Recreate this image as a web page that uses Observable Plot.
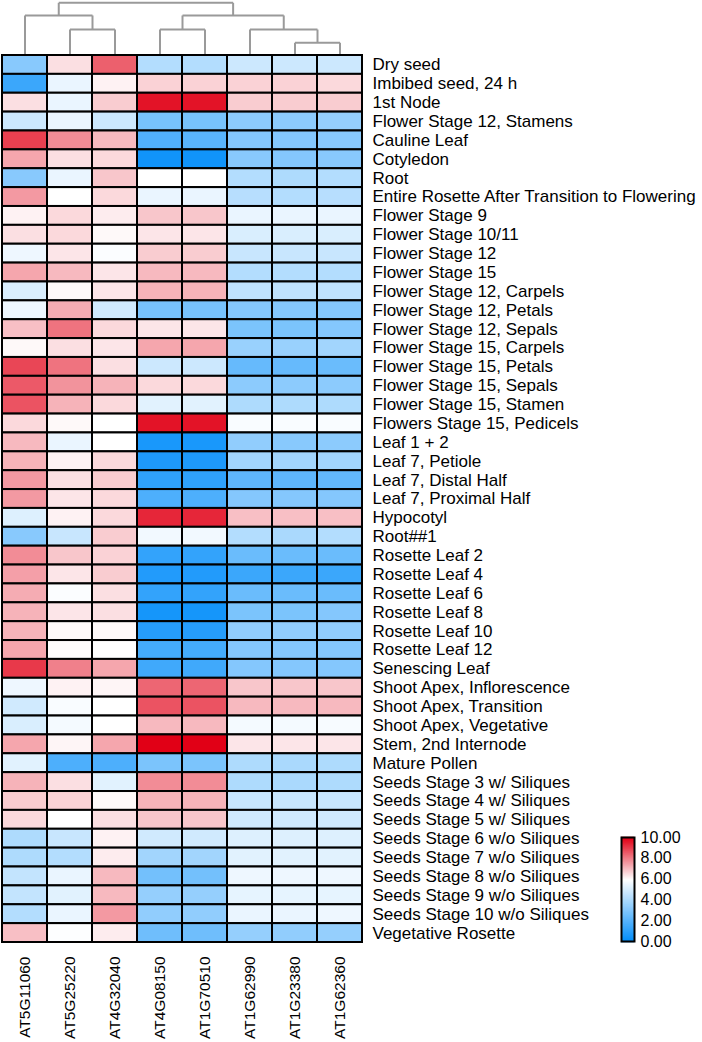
<!DOCTYPE html>
<html><head><meta charset="utf-8">
<script src="https://cdn.jsdelivr.net/npm/d3@7"></script>
<script src="https://cdn.jsdelivr.net/npm/@observablehq/plot@0.6"></script>
<style>
html,body{margin:0;padding:0;background:#fff;}
#wrap{position:relative;width:702px;height:1042px;overflow:hidden;font-family:"Liberation Sans",Arial,sans-serif;}
#wrap svg{position:absolute;background:transparent;max-width:none;overflow:visible;}
</style></head><body><div id="wrap"></div>
<script>
const genes = ["AT5G11060","AT5G25220","AT4G32040","AT4G08150","AT1G70510","AT1G62990","AT1G23380","AT1G62360"];
const tissues = ["Dry seed","Imbibed seed, 24 h","1st Node","Flower Stage 12, Stamens","Cauline Leaf","Cotyledon","Root","Entire Rosette After Transition to Flowering","Flower Stage 9","Flower Stage 10/11","Flower Stage 12","Flower Stage 15","Flower Stage 12, Carpels","Flower Stage 12, Petals","Flower Stage 12, Sepals","Flower Stage 15, Carpels","Flower Stage 15, Petals","Flower Stage 15, Sepals","Flower Stage 15, Stamen","Flowers Stage 15, Pedicels","Leaf 1 + 2","Leaf 7, Petiole","Leaf 7, Distal Half","Leaf 7, Proximal Half","Hypocotyl","Root##1","Rosette Leaf 2","Rosette Leaf 4","Rosette Leaf 6","Rosette Leaf 8","Rosette Leaf 10","Rosette Leaf 12","Senescing Leaf","Shoot Apex, Inflorescence","Shoot Apex, Transition","Shoot Apex, Vegetative","Stem, 2nd Internode","Mature Pollen","Seeds Stage 3 w/ Siliques","Seeds Stage 4 w/ Siliques","Seeds Stage 5 w/ Siliques","Seeds Stage 6 w/o Siliques","Seeds Stage 7 w/o Siliques","Seeds Stage 8 w/o Siliques","Seeds Stage 9 w/o Siliques","Seeds Stage 10 w/o Siliques","Vegetative Rosette"];

const AT5G11060 = [3.2,1.4,6.5,4.8,9.0,7.4,3.2,7.6,6.2,6.5,5.6,7.4,5.1,5.6,7.0,6.1,8.9,8.6,8.7,6.6,7.1,7.2,7.6,7.6,5.2,3.2,7.8,7.5,7.3,7.2,7.2,7.4,9.1,5.6,4.9,5.1,7.4,5.3,7.2,6.8,6.6,4.1,4.1,4.6,4.6,4.2,7.0];
const AT5G25220 = [6.5,5.5,5.5,5.5,7.8,6.5,5.5,6.0,6.6,6.6,6.4,7.1,6.1,7.3,8.2,6.5,8.2,7.7,7.2,6.1,5.5,6.2,6.5,6.4,6.2,4.7,6.9,6.4,5.9,6.4,6.1,6.05,8.0,6.2,5.85,5.75,6.15,1.8,6.5,6.7,6.0,4.7,4.2,5.5,5.3,5.5,5.95];
const AT4G32040 = [8.5,6.2,6.8,4.8,7.1,6.6,6.9,6.6,6.3,6.1,5.9,6.4,6.4,4.9,6.6,6.4,6.5,7.2,6.6,6.0,6.0,6.6,6.8,6.6,6.6,6.8,6.7,6.8,6.5,6.5,6.1,6.0,7.4,6.15,6.0,6.0,7.4,1.8,5.3,6.1,6.5,6.2,6.3,7.1,7.1,7.6,6.3];
const AT4G08150 = [4.2,6.7,9.7,2.8,1.9,0.4,6.0,5.5,6.9,6.4,6.8,7.1,7.2,2.8,6.4,7.4,4.8,6.6,5.3,9.7,0.6,0.7,1.1,1.8,9.4,5.7,1.2,0.8,1.2,0.5,0.9,1.6,1.5,8.4,8.7,7.1,10.0,2.9,7.8,7.2,6.9,4.9,3.8,2.7,3.5,3.4,2.6];
const AT1G70510 = [4.2,6.7,9.7,2.8,2.1,0.4,6.0,5.5,6.9,6.4,6.8,7.1,7.2,2.8,6.4,7.4,4.8,6.6,5.3,9.7,0.6,0.7,1.1,1.8,9.4,5.7,1.2,0.8,1.2,0.5,0.9,1.6,1.5,8.4,8.7,7.1,10.0,2.9,7.8,7.2,6.9,4.9,3.8,2.7,3.5,3.4,2.6];
const AT1G62990 = [4.8,6.7,6.8,3.3,3.1,3.2,4.2,4.3,5.5,5.1,4.7,4.2,4.5,3.1,2.9,3.6,2.4,3.3,4.1,5.85,3.4,3.8,2.2,3.1,7.0,4.2,2.5,1.4,2.5,2.9,3.4,3.1,3.1,6.9,7.1,5.75,6.4,4.1,4.1,4.7,4.9,5.2,5.3,5.6,5.4,5.5,3.5];
const AT1G23380 = [4.8,6.7,6.8,3.3,3.1,3.1,4.1,4.2,5.5,5.1,4.7,4.2,4.5,3.1,2.9,3.6,2.4,3.3,4.1,5.85,3.2,3.8,2.2,3.1,7.0,4.0,2.5,1.4,2.5,2.9,3.4,3.1,3.1,6.9,7.1,5.75,6.4,4.0,4.0,4.7,4.9,5.2,5.3,5.6,5.4,5.5,3.4];
const AT1G62360 = [4.8,6.6,6.8,3.5,3.2,3.2,4.2,4.3,5.5,5.1,4.7,4.2,4.5,3.1,3.1,3.8,2.5,3.3,4.1,5.85,3.3,3.8,2.3,3.1,7.0,4.2,2.5,1.4,2.5,3.1,3.4,3.1,3.1,6.9,7.1,5.8,6.4,4.1,4.1,4.7,4.9,5.2,5.3,5.6,5.4,5.6,3.5];

// dendrogram merges: [left, right, height]; merged clusters are named m1, m2, ...
const merges = [
  ["AT5G25220","AT4G32040",1.95],
  ["AT4G08150","AT1G70510",1.95],
  ["AT1G23380","AT1G62360",0.935],
  ["AT1G62990","m3",1.95],
  ["AT5G11060","m1",3.03],
  ["m2","m4",3.03],
  ["m5","m6",4.0]
];
const legendTicks = [0,2,4,6,8,10];

const series = [AT5G11060,AT5G25220,AT4G32040,AT4G08150,AT1G70510,AT1G62990,AT1G23380,AT1G62360];
const table = tissues.flatMap((t,i)=>genes.map((g,j)=>({tissue:t, gene:g, value:series[j][i]})));

const FONT = '"Liberation Sans", Arial, sans-serif';
const colorOpts = {type:"linear", domain:[0,6,10], range:["rgb(0,140,250)","#ffffff","rgb(225,0,22)"], interpolate:"rgb"};

const wrap = document.getElementById("wrap");

// Dendrogram
const pos = {};
genes.forEach((g,i)=>{pos[g] = {x:i+0.5, h:0};});
const segs = [];
merges.forEach(([a,b,h],k)=>{
  const A = pos[a], B = pos[b];
  segs.push({x1:A.x,y1:A.h,x2:A.x,y2:h});
  segs.push({x1:B.x,y1:B.h,x2:B.x,y2:h});
  segs.push({x1:A.x,y1:h,x2:B.x,y2:h});
  pos["m"+(k+1)] = {x:(A.x+B.x)/2, h};
});
const dendro = Plot.plot({
  width:702, height:56, marginLeft:2, marginRight:340, marginTop:2.3, marginBottom:1.5,
  x:{domain:[0,8], axis:null}, y:{domain:[0,4], axis:null},
  style:{background:"transparent"},
  marks:[Plot.link(segs,{x1:"x1",y1:"y1",x2:"x2",y2:"y2",stroke:"#9a9a9a",strokeWidth:2})]
});
dendro.style.top = "0px"; dendro.style.left = "0px";
wrap.appendChild(dendro);

// Heatmap
const heat = Plot.plot({
  width:702, height:989, marginTop:2, marginBottom:100, marginLeft:2, marginRight:340,
  x:{domain:genes, padding:0}, y:{domain:tissues, padding:0},
  color:colorOpts,
  style:{fontFamily:FONT, color:"black", background:"transparent"},
  marks:[
    Plot.cell(table,{x:"gene",y:"tissue",fill:"value",stroke:"black",strokeWidth:2,inset:0}),
    Plot.axisX({anchor:"bottom", tickRotate:-90, tickSize:0, tickPadding:14, fontSize:15.5, label:null, fill:"black"}),
    Plot.axisY({anchor:"right", tickSize:0, tickPadding:10, fontSize:17, label:null, fill:"black"})
  ]
});
heat.style.top = "53px"; heat.style.left = "0px";
wrap.appendChild(heat);

// Legend
const steps = d3.range(0, 10.001, 0.05);
const legend = Plot.plot({
  width:102, height:130, marginLeft:21, marginRight:68, marginTop:12, marginBottom:14,
  x:{domain:[0,1], axis:null}, y:{domain:[0,10], axis:null},
  color:colorOpts,
  style:{fontFamily:FONT, color:"black", background:"transparent"},
  marks:[
    Plot.ruleY(steps,{y:d=>d, x1:0, x2:1, stroke:d=>d, strokeWidth:1.5}),
    Plot.frame({stroke:"black", strokeWidth:2}),
    Plot.text(legendTicks,{x:1, y:d=>d, text:d=>d3.format(".2f")(d), textAnchor:"start", dx:6, fontSize:16, fill:"black"})
  ]
});
legend.style.top = "825px"; legend.style.left = "600px";
wrap.appendChild(legend);
</script></body></html>
